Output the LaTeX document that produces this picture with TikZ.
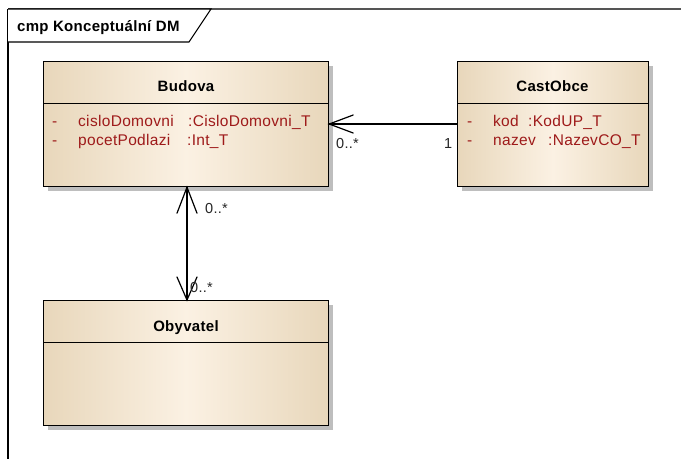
\documentclass[tikz,border=0pt]{standalone}
\usepackage{fontspec}
\setmainfont[LetterSpace=2]{Liberation Sans}
\usetikzlibrary{arrows.meta,shadows}
\definecolor{tanedge}{HTML}{E8D7BB}
\definecolor{tanmid}{HTML}{FBF1E3}
\definecolor{attrred}{HTML}{9E1A1A}
\definecolor{shadowgray}{HTML}{BEBEBE}
\definecolor{framegray}{HTML}{555555}

% open V arrow tip made of two straight strokes
\pgfdeclarearrow{
  name=OpenVee,
  parameters={\the\pgfarrowlength,\the\pgfarrowwidth},
  setup code={
    \pgfarrowssettipend{0pt}
    \pgfarrowssetlineend{0pt}
    \pgfarrowssetvisualbackend{-\pgfarrowlength}
    \pgfarrowssetbackend{-\pgfarrowlength}
    \pgfarrowsupperhullpoint{-\pgfarrowlength}{.5\pgfarrowwidth}
    \pgfarrowsupperhullpoint{0pt}{0pt}
    \pgfarrowssavethe\pgfarrowlength
    \pgfarrowssavethe\pgfarrowwidth
  },
  drawing code={
    \pgfsetdash{}{0pt}
    \pgfsetroundcap
    \pgfsetmiterjoin
    \pgfpathmoveto{\pgfqpoint{-\pgfarrowlength}{.5\pgfarrowwidth}}
    \pgfpathlineto{\pgfqpoint{0pt}{0pt}}
    \pgfpathlineto{\pgfqpoint{-\pgfarrowlength}{-.5\pgfarrowwidth}}
    \pgfusepathqstroke
  },
  defaults={length=24pt, width=19pt}
}

\begin{document}
\begin{tikzpicture}[x=1pt,y=-1pt,
  classbox/.style={draw=black, line width=1.2pt, anchor=north west, inner sep=0pt,
    left color=tanedge, right color=tanedge, middle color=tanmid,
    minimum height=125pt,
    drop shadow={shadow xshift=4pt, shadow yshift=-4pt, fill=shadowgray, opacity=1}},
  sepline/.style={draw=black, line width=1pt},
  classname/.style={font=\fontsize{15}{18}\selectfont\bfseries, anchor=base, inner sep=0pt},
  attr/.style={font=\fontsize{15.5}{18}\selectfont, text=attrred, anchor=base west, inner sep=0pt},
  mult/.style={font=\fontsize{14.5}{17}\selectfont, text=black!85, anchor=base west, inner sep=0pt},
  assoc/.style={draw=black, line width=1.2pt}
]
\useasboundingbox (0,0) rectangle (681,459);
\fill[white] (0,0) rectangle (681,459);

% diagram frame with its name tab
\draw[framegray, line width=1.4pt] (8,9) -- (681,9);
\draw[black, line width=1.2pt] (8,9) -- (8,459);
\draw[black, line width=1.1pt, fill=white] (8,9) -- (211,9) -- (189,42) -- (8,42);
\node[font=\fontsize{15}{18}\selectfont\bfseries, anchor=base west, inner sep=0pt] (frametitle)
  at (17,31) {cmp Konceptuální DM};

% class Budova
\node[classbox, minimum width=285pt] (budova) at (43,61) {};
\draw[sepline] (budova.west |- 0,103) -- (budova.east |- 0,103);
\node[classname] (budovaName) at (186,91) {Budova};
\node[attr] (b1v) at (52,126) {-};
\node[attr] (b1n) at (78,126) {cisloDomovni};
\node[attr] (b1t) at (188,126) {:CisloDomovni\_T};
\node[attr] (b2v) at (52,145) {-};
\node[attr] (b2n) at (78,145) {pocetPodlazi};
\node[attr] (b2t) at (187,145) {:Int\_T};

% class CastObce
\node[classbox, minimum width=191pt] (castobce) at (457,61) {};
\draw[sepline] (castobce.west |- 0,103) -- (castobce.east |- 0,103);
\node[classname] (castobceName) at (552.5,91) {CastObce};
\node[attr] (c1v) at (467,126) {-};
\node[attr] (c1n) at (493,126) {kod};
\node[attr] (c1t) at (528,126) {:KodUP\_T};
\node[attr] (c2v) at (467,145) {-};
\node[attr] (c2n) at (493,145) {nazev};
\node[attr] (c2t) at (548,145) {:NazevCO\_T};

% class Obyvatel
\node[classbox, minimum width=285pt] (obyvatel) at (43,300) {};
\draw[sepline] (obyvatel.west |- 0,342) -- (obyvatel.east |- 0,342);
\node[classname] (obyvatelName) at (186,331) {Obyvatel};

% associations
\draw[assoc, -{OpenVee[length=24pt, width=18pt]}]
  (castobce.west |- 0,124) -- (budova.east |- 0,124);
\node[mult] (m1) at (336,148) {0..*};
\node[mult] (m2) at (444,148) {1};

\draw[assoc, {OpenVee[length=26pt, width=20pt]}-{OpenVee[length=23pt, width=20pt]}]
  (budova.south -| 187,0) -- (obyvatel.north -| 187,0);
\node[mult] (m3) at (205,213) {0..*};
\node[mult] (m4) at (190,292) {0..*};
\end{tikzpicture}
\end{document}
